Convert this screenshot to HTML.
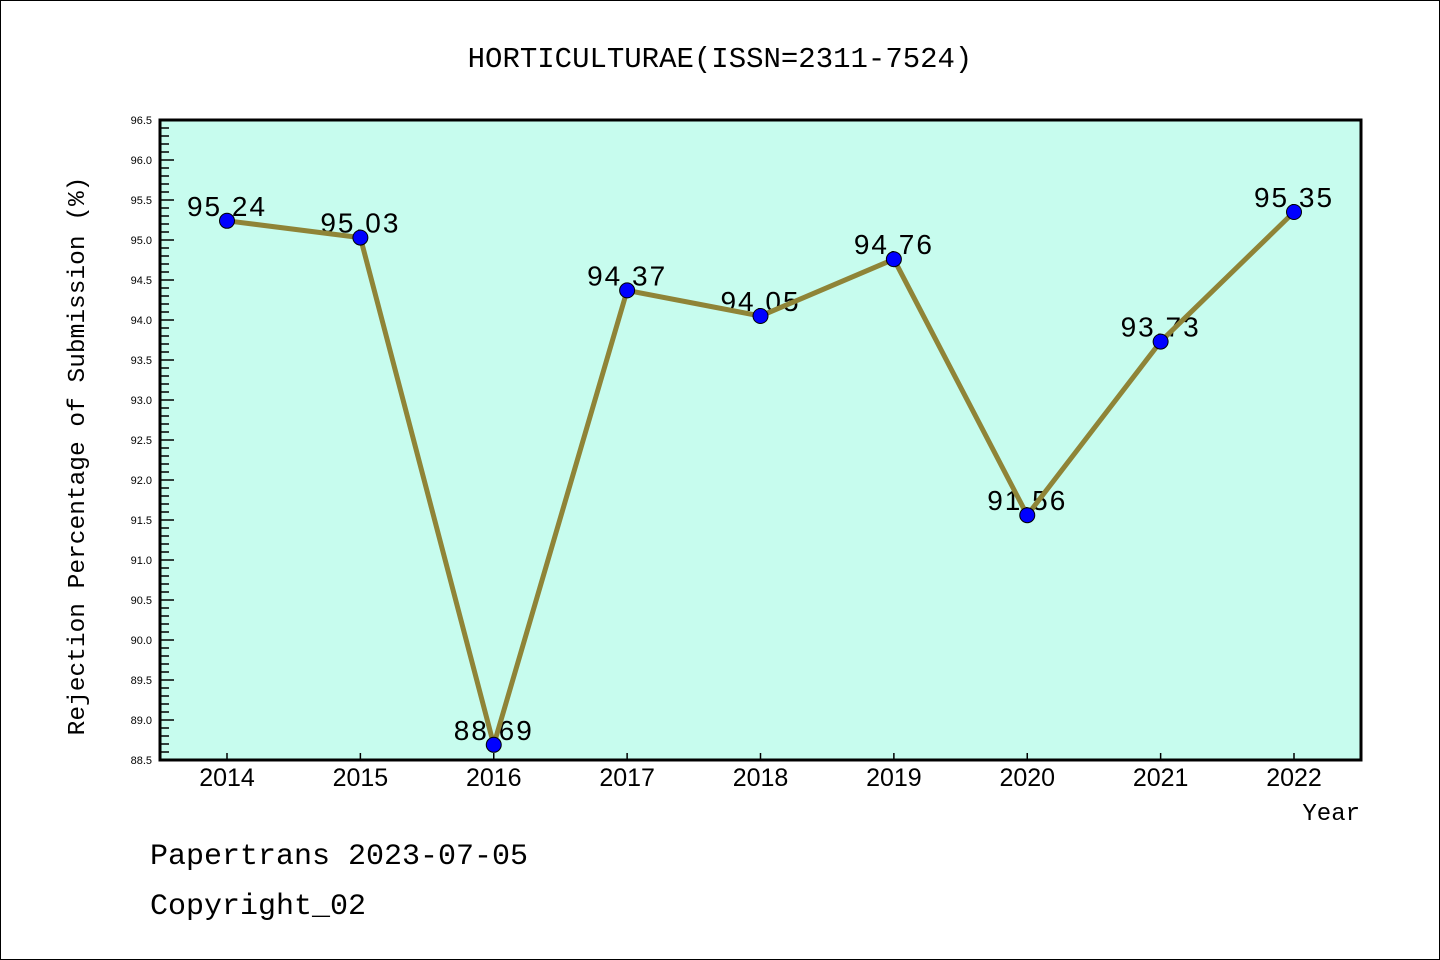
<!DOCTYPE html>
<html><head><meta charset="utf-8"><style>
html,body{margin:0;padding:0;background:#fff;}
svg{display:block;font-family:"Liberation Mono","Noto Sans CJK SC",monospace;}
</style></head><body>
<svg id="chart" width="1440" height="960" viewBox="0 0 1440 960">
<rect x="0.5" y="0.5" width="1439" height="959" fill="#fff" stroke="#000" stroke-width="1"/>
<text x="720" y="67" text-anchor="middle" font-size="29">HORTICULTURAE(ISSN=2311-7524)</text>
<rect x="160" y="120" width="1201" height="640" fill="#c7fcee"/>
<g id="yticks"></g><g id="xticks"></g><g id="series"></g>
<rect x="160" y="120" width="1201" height="640" fill="none" stroke="#000" stroke-width="3"/>
<text transform="translate(84,456) rotate(-90)" text-anchor="middle" font-size="24.5">Rejection Percentage of Submission (%)</text>
<text x="1360" y="820" text-anchor="end" font-size="24">Year</text>
<text x="150" y="864" font-size="30">Papertrans 2023-07-05</text>
<text x="150" y="914" font-size="30">Copyright_02</text>
</svg>
<script>
const years = ["2014","2015","2016","2017","2018","2019","2020","2021","2022"];
const values = [95.24,95.03,88.69,94.37,94.05,94.76,91.56,93.73,95.35];
const valueLabels = ["95.24","95.03","88.69","94.37","94.05","94.76","91.56","93.73","95.35"];
const yTickLabels = ["88.5","89.0","89.5","90.0","90.5","91.0","91.5","92.0","92.5","93.0","93.5","94.0","94.5","95.0","95.5","96.0","96.5"];
const yMin = 88.5, yMax = 96.5;
const NS = "http://www.w3.org/2000/svg";
function yS(v){return 760 - (v - yMin) / (yMax - yMin) * 640;}
function xS(i){return 227 + i * (1294 - 227) / (years.length - 1);}
function mk(tag, attrs, parent){const e=document.createElementNS(NS,tag);for(const k in attrs)e.setAttribute(k,attrs[k]);parent.appendChild(e);return e;}
const yt=document.getElementById('yticks');
for(let k=0;k<=80;k++){
  const v=yMin+k*0.1, y=yS(v), major=(k%5===0);
  const t=mk('line',{x1:160,x2:160+(major?14:9),y1:y,y2:y,stroke:'#000','stroke-width':1.5},yt);
  
  
}
yTickLabels.forEach(function(l){
  const t=mk('text',{x:152,y:yS(parseFloat(l))+4,'text-anchor':'end','font-size':11,'font-family':'Liberation Sans, sans-serif'},yt);
  t.textContent=l;
  
  
});
const xt=document.getElementById('xticks');
years.forEach(function(yr,i){
  const x=xS(i);
  const t=mk('line',{x1:x,x2:x,y1:760,y2:753,stroke:'#000','stroke-width':1.5},xt);
  
  
  const l=mk('text',{x:x,y:786,'text-anchor':'middle','font-size':25,'font-family':'Liberation Sans, sans-serif'},xt);
  l.textContent=yr;
  
  
});
const sg=document.getElementById('series');
values.forEach(function(v,i){
  const l=mk('text',{x:xS(i),y:yS(v)-5,'text-anchor':'middle','font-size':28,'letter-spacing':2,'font-family':'Liberation Sans, sans-serif'},sg);
  l.textContent=valueLabels[i];
  
  
});
const pl=mk('polyline',{points:values.map(function(v,i){return xS(i)+','+yS(v);}).join(' '),fill:'none',stroke:'#8f8437','stroke-width':5,'stroke-linejoin':'round'},sg);


values.forEach(function(v,i){
  const c=mk('circle',{cx:xS(i),cy:yS(v),r:7.5,fill:'#0000ff',stroke:'#000','stroke-width':1},sg);
  
  
});
</script>
</body></html>
